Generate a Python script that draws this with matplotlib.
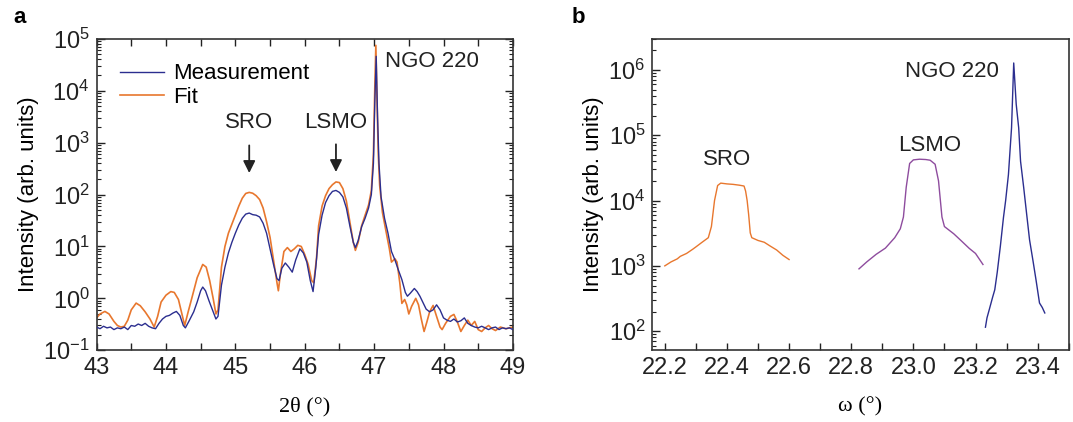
import numpy as np
import matplotlib
matplotlib.use('Agg')
import matplotlib.pyplot as plt
from matplotlib.ticker import LogLocator, MultipleLocator, NullFormatter, FormatStrFormatter

plt.rcParams['font.family'] = ['Liberation Sans', 'DejaVu Sans']
plt.rcParams['mathtext.default'] = 'regular'

# ---- panel a: 2theta-omega scan ----
meas_x = [43.00, 43.05, 43.10, 43.15, 43.20, 43.25, 43.30, 43.35, 43.40, 43.45,
          43.50, 43.55, 43.60, 43.65, 43.70, 43.75, 43.80, 43.85, 43.90, 43.95,
          44.00, 44.05, 44.10, 44.15, 44.20, 44.25, 44.28, 44.33, 44.40, 44.45,
          44.50, 44.53, 44.57, 44.62, 44.67, 44.72, 44.75, 44.80, 44.85, 44.90,
          44.95, 45.00, 45.05, 45.10, 45.15, 45.20, 45.25, 45.30, 45.35, 45.40,
          45.45, 45.50, 45.55, 45.60, 45.63, 45.67, 45.72, 45.77, 45.82, 45.87,
          45.93, 45.98, 46.03, 46.08, 46.12, 46.16, 46.20, 46.25, 46.30, 46.35,
          46.40, 46.45, 46.50, 46.55, 46.60, 46.65, 46.70, 46.73, 46.77, 46.82,
          46.87, 46.92, 46.96, 46.99, 47.01, 47.03, 47.05, 47.07, 47.10, 47.15,
          47.20, 47.25, 47.30, 47.35, 47.40, 47.45, 47.48, 47.52, 47.58, 47.62,
          47.66, 47.70, 47.75, 47.80, 47.85, 47.90, 47.95, 48.00, 48.05, 48.10,
          48.15, 48.20, 48.25, 48.30, 48.35, 48.40, 48.45, 48.50, 48.55, 48.60,
          48.65, 48.70, 48.75, 48.80, 48.85, 48.90, 48.95, 49.00]
meas_y = [0.28, 0.26, 0.29, 0.27, 0.28, 0.25, 0.27, 0.26, 0.28, 0.25,
          0.30, 0.29, 0.32, 0.30, 0.33, 0.29, 0.27, 0.26, 0.33, 0.40,
          0.45, 0.47, 0.52, 0.56, 0.47, 0.30, 0.27, 0.36, 0.55, 0.85,
          1.4, 1.65, 1.4, 0.9, 0.6, 0.40, 0.45, 1.8, 4.0, 7.5,
          12, 18, 26, 35, 42, 44, 41, 40, 37, 28,
          18, 9, 4.5, 2.4, 2.2, 3.8, 4.8, 4.0, 3.2, 5.5,
          9.0, 7.5, 5.0, 2.2, 1.35, 4, 17, 40, 70, 95,
          115, 120, 110, 90, 55, 25, 12, 9.5, 13, 24,
          35, 55, 100, 400, 6000, 4.6e4, 3000, 400, 90, 35,
          18, 8, 5.5, 3.5, 2.3, 1.3, 1.1, 1.25, 1.55, 1.35,
          1.1, 0.85, 0.62, 0.55, 0.60, 0.75, 0.60, 0.42, 0.38, 0.36,
          0.40, 0.35, 0.37, 0.42, 0.33, 0.30, 0.28, 0.27, 0.29, 0.27,
          0.25, 0.27, 0.28, 0.25, 0.27, 0.26, 0.27, 0.25]

fit_x = [43.00, 43.05, 43.12, 43.18, 43.25, 43.30, 43.35, 43.40, 43.45, 43.50,
         43.57, 43.63, 43.70, 43.77, 43.83, 43.88, 43.93, 44.00, 44.07, 44.12,
         44.18, 44.23, 44.27, 44.32, 44.38, 44.45, 44.53, 44.58, 44.63, 44.68,
         44.72, 44.75, 44.80, 44.85, 44.90, 45.00, 45.05, 45.10, 45.15, 45.20,
         45.25, 45.30, 45.35, 45.40, 45.45, 45.50, 45.55, 45.60, 45.62, 45.65,
         45.70, 45.75, 45.80, 45.85, 45.90, 45.95, 46.00, 46.05, 46.10, 46.13,
         46.17, 46.20, 46.25, 46.30, 46.35, 46.40, 46.45, 46.50, 46.55, 46.60,
         46.65, 46.70, 46.73, 46.77, 46.82, 46.87, 46.92, 46.96, 46.99, 47.01,
         47.025, 47.04, 47.06, 47.08, 47.12, 47.17, 47.22, 47.25, 47.30, 47.33,
         47.37, 47.40, 47.44, 47.47, 47.50, 47.54, 47.60, 47.64, 47.68, 47.72,
         47.76, 47.80, 47.85, 47.90, 47.95, 47.98, 48.03, 48.10, 48.15, 48.20,
         48.25, 48.30, 48.35, 48.40, 48.45, 48.50, 48.55, 48.60, 48.65, 48.70,
         48.75, 48.82, 48.90, 49.00]
fit_y = [0.42, 0.50, 0.56, 0.50, 0.36, 0.30, 0.28, 0.29, 0.38, 0.60,
         0.81, 0.72, 0.55, 0.40, 0.28, 0.45, 0.85, 1.15, 1.35, 1.30,
         0.95, 0.50, 0.30, 0.55, 1.1, 2.5, 4.5, 4.0, 2.2, 1.0,
         0.50, 0.6, 4.0, 10, 18, 40, 60, 85, 105, 110,
         106, 95, 80, 55, 30, 15, 5.5, 2.0, 1.4, 3.0,
         8, 9.5, 8.0, 9, 10.5, 10, 7, 4.5, 2.2, 2.0,
         6, 25, 60, 95, 130, 155, 175, 170, 130, 75,
         30, 12, 8.4, 12, 25, 40, 63, 120, 600, 1.2e4,
         7.5e4, 8000, 600, 150, 45, 20, 9, 5.0, 5.8, 5.0,
         2.0, 0.8, 0.95, 0.75, 0.50, 0.7, 1.0, 0.75, 0.4, 0.23,
         0.35, 0.55, 0.73, 0.45, 0.28, 0.25, 0.33, 0.45, 0.49, 0.35,
         0.23, 0.30, 0.38, 0.30, 0.36, 0.25, 0.23, 0.27, 0.30, 0.26,
         0.24, 0.28, 0.26, 0.28]

# ---- panel b: rocking curves ----
sro_x = [22.20, 22.22, 22.24, 22.25, 22.27, 22.29, 22.30, 22.32, 22.34, 22.35,
         22.36, 22.37, 22.38, 22.40, 22.42, 22.44, 22.455, 22.46, 22.465, 22.47,
         22.475, 22.48, 22.50, 22.52, 22.54, 22.56, 22.58, 22.60]
sro_y = [1000, 1150, 1280, 1400, 1550, 1800, 1950, 2300, 2700, 4000,
         1.0e4, 1.7e4, 1.85e4, 1.8e4, 1.77e4, 1.72e4, 1.67e4, 1.4e4, 1.0e4, 6000,
         3200, 2700, 2450, 2300, 2000, 1750, 1450, 1250]

lsmo_x = [22.825, 22.85, 22.88, 22.91, 22.94, 22.958, 22.968, 22.977, 22.988, 23.00,
          23.02, 23.04, 23.054, 23.07, 23.081, 23.092, 23.10, 23.13, 23.153, 23.18,
          23.20, 23.224]
lsmo_y = [900, 1150, 1500, 1870, 2700, 3700, 5600, 1.6e4, 3.7e4, 4.2e4,
          4.3e4, 4.25e4, 4.15e4, 3.6e4, 2.0e4, 5600, 4000, 3100, 2450, 1850,
          1550, 1050]

ngo_x = [23.232, 23.237, 23.245, 23.255, 23.262, 23.27, 23.28, 23.29, 23.297, 23.306,
         23.316, 23.323, 23.331, 23.339, 23.345, 23.355, 23.365, 23.374, 23.385, 23.395,
         23.406, 23.415, 23.423]
ngo_y = [115, 160, 220, 330, 430, 800, 2000, 5500, 1.0e4, 2.5e4,
         1.3e5, 1.28e6, 3.0e5, 1.3e5, 4.0e4, 1.6e4, 6000, 2500, 1200, 600,
         270, 230, 190]

blue = '#2b2e8f'
orange = '#e8772e'
purple = '#8e4c9e'
txt = '#222222'

fig = plt.figure(figsize=(10.73, 4.22), dpi=100)
ax1 = fig.add_axes([0.090, 0.170, 0.388, 0.738])
ax2 = fig.add_axes([0.608, 0.170, 0.388, 0.738])

ax1.plot(meas_x, meas_y, color=blue, lw=1.0, label='Measurement', zorder=3)
ax1.plot(fit_x, fit_y, color=orange, lw=1.2, label='Fit', zorder=2)
ax1.set_yscale('log')
ax1.set_xlim(43, 49)
ax1.set_ylim(0.1, 1e5)
ax1.xaxis.set_major_locator(MultipleLocator(1))
ax1.xaxis.set_minor_locator(MultipleLocator(0.5))
ax1.set_xlabel('2θ (°)', family='Liberation Serif', fontsize=16, labelpad=13)
ax1.set_ylabel('Intensity (arb. units)', fontsize=16, labelpad=3)
ax1.legend(loc='upper left', bbox_to_anchor=(0.035, 0.95), frameon=False,
           fontsize=16, handlelength=2.0, handletextpad=0.4, labelspacing=0.1,
           borderaxespad=0)

ax1.annotate('', xy=(45.2, 230), xytext=(45.2, 1000),
             arrowprops=dict(arrowstyle='-|>', color=txt, lw=1.3, mutation_scale=18))
ax1.annotate('', xy=(46.45, 240), xytext=(46.45, 1050),
             arrowprops=dict(arrowstyle='-|>', color=txt, lw=1.3, mutation_scale=18))
ax1.text(45.2, 2400, 'SRO', ha='center', va='center', fontsize=16, color=txt)
ax1.text(46.45, 2400, 'LSMO', ha='center', va='center', fontsize=16, color=txt)
ax1.text(47.15, 3.6e4, 'NGO 220', ha='left', va='center', fontsize=16, color=txt)

ax2.plot(sro_x, sro_y, color=orange, lw=1.0)
ax2.plot(lsmo_x, lsmo_y, color=purple, lw=1.0)
ax2.plot(ngo_x, ngo_y, color=blue, lw=1.0)
ax2.set_yscale('log')
ax2.set_xlim(22.16, 23.50)
ax2.set_ylim(51, 3e6)
ax2.xaxis.set_major_locator(MultipleLocator(0.2))
ax2.xaxis.set_minor_locator(MultipleLocator(0.1))
ax2.xaxis.set_major_formatter(FormatStrFormatter('%.1f'))
ax2.set_xlabel('ω (°)', family='Liberation Serif', fontsize=16, labelpad=13)
ax2.set_ylabel('Intensity (arb. units)', fontsize=16, labelpad=3)
ax2.text(22.4, 4.3e4, 'SRO', ha='center', va='center', fontsize=16, color=txt)
ax2.text(23.054, 7.0e4, 'LSMO', ha='center', va='center', fontsize=16, color=txt)
ax2.text(23.125, 9.5e5, 'NGO 220', ha='center', va='center', fontsize=16, color=txt)

for ax, sides in ((ax1, True), (ax2, False)):
    ax.yaxis.set_major_locator(LogLocator(base=10, numticks=10))
    ax.yaxis.set_minor_locator(LogLocator(base=10, subs=np.arange(2, 10), numticks=20))
    ax.yaxis.set_minor_formatter(NullFormatter())
    ax.tick_params(which='both', direction='in', top=sides, right=sides,
                   labelsize=17, colors=txt)
    ax.tick_params(axis='x', which='both', length=5, width=1.0, pad=5)
    ax.tick_params(axis='y', which='major', length=6, width=1.0, pad=5)
    ax.tick_params(axis='y', which='minor', length=3, width=0.8)
    for s in ax.spines.values():
        s.set_color('#333333')
        s.set_linewidth(1.2)

fig.text(0.012, 0.945, 'a', fontsize=16, fontweight='bold')
fig.text(0.533, 0.945, 'b', fontsize=16, fontweight='bold')

fig.savefig('out.png', dpi=100)
